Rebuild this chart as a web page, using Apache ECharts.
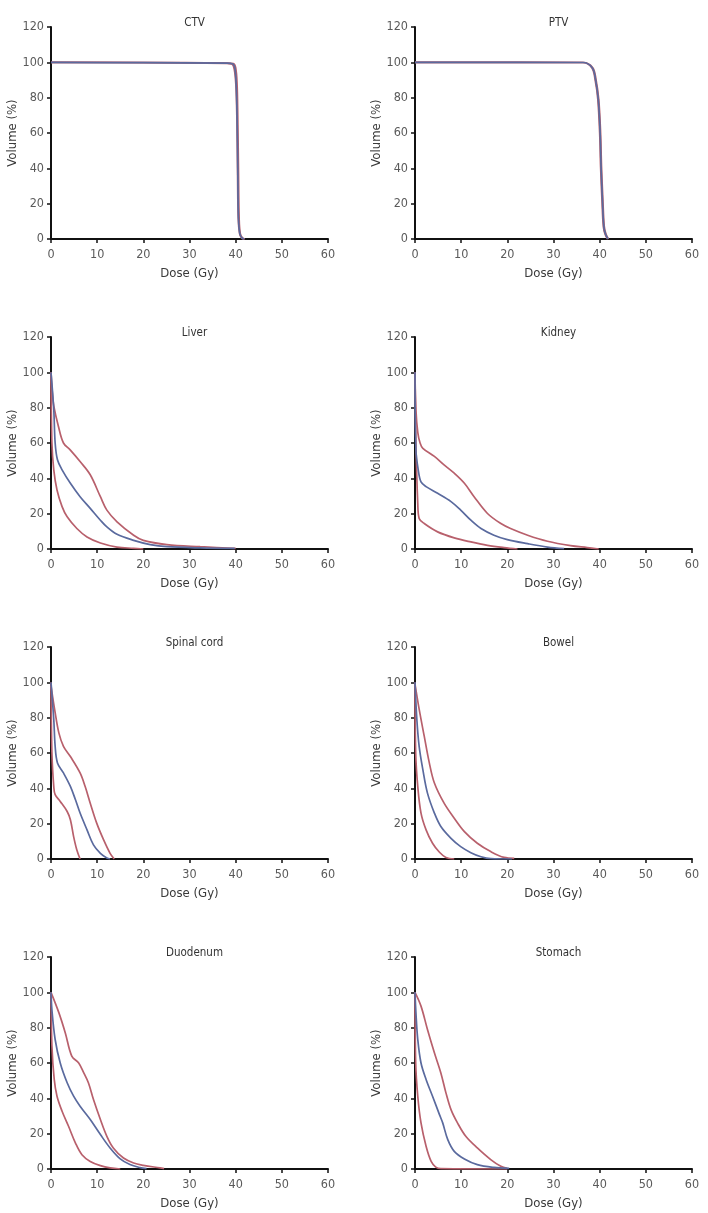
<!DOCTYPE html>
<html>
<head>
<meta charset="utf-8">
<script src="https://cdn.jsdelivr.net/npm/echarts@6/dist/echarts.min.js"></script>
<style>
html,body{margin:0;padding:0;background:#fff;}
#chart{width:708px;height:1213px;}
</style>
</head>
<body>
<div id="chart"></div>
<script>
// Panel titles
const panelTitles = ['CTV','PTV','Liver','Kidney','Spinal cord','Bowel','Duodenum','Stomach'];
const xTicks = [0,10,20,30,40,50,60];
const yTicks = [0,20,40,60,80,100,120];

// DVH curves: [dose (Gy), volume (%)]; upper/lower = red, mean = blue
const ctvUpper = [[0,100],[20,99.9],[38,99.6],[39.5,99.3],[40,97],[40.3,88],[40.45,70],[40.6,40],[40.75,12],[41,3],[41.5,0.5],[42,0]];
const ctvMean  = [[0,100],[20,99.8],[38,99.5],[39.3,99.2],[39.8,97],[40.1,88],[40.3,70],[40.45,40],[40.6,12],[40.9,3],[41.4,0.5],[41.9,0]];
const ctvLower = [[0,100],[20,99.8],[38,99.4],[39.2,99],[39.7,96],[40.05,87],[40.25,70],[40.4,40],[40.55,12],[40.85,3],[41.3,0.5],[41.8,0]];

const ptvUpper = [[0,100],[36.5,99.9],[38.5,97],[39.2,90.4],[39.8,79],[40.2,60],[40.4,41],[40.7,22],[41,7],[41.4,2.5],[41.9,0]];
const ptvMean  = [[0,100],[36.4,99.9],[38.4,97],[39.1,90.4],[39.7,79],[40.1,60],[40.3,41],[40.6,22],[40.9,7],[41.3,2.5],[41.8,0]];
const ptvLower = [[0,100],[36.3,99.9],[38.3,97],[39,90.4],[39.6,79],[40,60],[40.2,41],[40.5,22],[40.8,7],[41.2,2.5],[41.7,0]];

const liverUpper = [[0,100],[0.3,88],[0.6,81],[1.6,69.5],[2.7,60],[4.2,56],[6.3,49.5],[8.5,42],[10.7,29.6],[12.1,22],[14.3,15.4],[17.9,7.8],[20,4.9],[25.1,2.5],[32.3,1.3],[39.5,0.4],[40,0.3]];
const liverMean  = [[0,100],[0.6,79],[0.9,60],[1.4,50.5],[2.4,44.8],[4.2,37.2],[6.3,29.6],[8.5,23],[10.7,16.3],[12.1,12.5],[14.3,8.3],[17.9,4.9],[21.5,2.5],[25.1,1.3],[32.3,0.6],[39.8,0.3]];
const liverLower = [[0,100],[0.2,60],[0.6,44.8],[1.3,33.4],[2.4,24],[3.5,18.2],[5.6,11.6],[7.8,6.8],[10.7,3.4],[14.3,1.1],[17.9,0.4],[20,0]];

const kidneyUpper = [[0,100],[0.2,79],[0.6,66],[1.1,60],[1.7,57],[4.2,52.4],[6.3,47.6],[8.5,42.9],[10.7,37.2],[12.8,29.6],[15.7,20.1],[18.6,14.4],[20.7,11.6],[24.4,7.8],[28.7,4.4],[33.7,1.9],[37.3,0.8],[39.8,0]];
const kidneyMean  = [[0,100],[0.2,56],[0.7,44.8],[1.3,38],[2.4,35.3],[4.9,31.5],[7.8,26.8],[9.9,22],[12.1,16.3],[14.3,11.6],[17.1,7.8],[20,5.3],[24.4,3],[28.7,1.1],[32.3,0.2]];
const kidneyLower = [[0,100],[0.2,60],[0.6,25.8],[0.9,17.3],[2,14.4],[4.9,9.7],[8.5,6.3],[12.1,4],[15.7,2.1],[19.3,0.8],[22.2,0]];

const cordUpper = [[0,98],[0.9,82.8],[1.7,71.4],[2.7,63.8],[4.2,58],[6.3,48.7],[7.4,41],[8.5,31.6],[9.9,20.3],[11.4,10.8],[12.8,3.2],[13.7,0]];
const cordMean  = [[0,100],[0.6,79],[0.9,63.8],[1.4,54.4],[2.7,48.7],[4.2,41.1],[5.3,33.5],[6.3,26],[7.8,16.5],[9.2,8],[10.7,3.2],[12.1,0.6],[12.8,0]];
const cordLower = [[0,100],[0.2,60],[0.6,41],[0.9,36.4],[2,32.6],[3.5,26.9],[4.2,22.2],[4.9,12.7],[5.6,5.1],[6.3,0]];

const bowelUpper = [[0,99],[0.9,84.8],[2,69.5],[3.1,54.4],[4.2,43],[6.3,31.6],[8.5,23.1],[10.7,15.5],[13.5,8.9],[16.4,4.2],[19.3,0.9],[21.5,0.4]];
const bowelMean  = [[0,100],[0.4,79],[0.9,63.8],[1.7,50.6],[2.7,37.3],[4.2,26],[5.6,18.4],[7.8,11.7],[9.9,7],[12.1,3.6],[14.3,1.3],[16.4,0.2],[21,0]];
const bowelLower = [[0,100],[0.15,60],[0.6,41],[1.3,26],[2.4,16.5],[3.8,8.9],[5.3,3.8],[6.7,0.9],[8.5,0]];

const duoUpper = [[0,100],[1.7,88.5],[3.1,77],[4.5,63.9],[6,60],[7.1,54.4],[8.1,48.8],[9.2,39.3],[10.7,28],[12.1,18.5],[13.5,11.9],[15.7,6.2],[17.9,3.4],[20,2.1],[23.6,0.6],[24.5,0.2]];
const duoMean  = [[0,100],[0.2,90],[0.9,73.3],[2,60],[3.5,48.8],[4.9,41.2],[6.3,35.5],[8.5,28],[10.7,19.5],[12.8,11.9],[15,5.7],[17.1,2.5],[19.3,0.8],[20.7,0.2]];
const duoLower = [[0,100],[0.2,69.6],[0.7,50.7],[1.3,41.2],[2.4,32.7],[3.8,24.2],[5.3,14.7],[6.7,8.1],[8.5,4.3],[10.7,1.9],[12.8,0.6],[15,0]];

const stomUpper = [[0,100],[1.3,92.2],[2.7,79],[4.2,65.8],[5.6,54.4],[6.7,43.1],[7.8,33.6],[9.2,26.1],[11,18.5],[13.5,11.9],[16.4,5.3],[18.6,1.5],[20,0.4]];
const stomMean  = [[0,100],[0.2,88.5],[0.6,73.3],[1.3,60],[2.4,50.7],[3.8,41.2],[5.3,30.8],[6,26.1],[7.1,16.6],[8.5,10],[10.7,5.7],[13.5,2.5],[17.1,0.9],[20.4,0.4]];
const stomLower = [[0,100],[0.15,60],[0.6,41.2],[1.3,26.1],[2.4,12.9],[3.5,4.3],[4.5,1.1],[5.6,0.2],[20,0]];

const panels = [
  [ctvUpper, ctvMean, ctvLower],
  [ptvUpper, ptvMean, ptvLower],
  [liverUpper, liverMean, liverLower],
  [kidneyUpper, kidneyMean, kidneyLower],
  [cordUpper, cordMean, cordLower],
  [bowelUpper, bowelMean, bowelLower],
  [duoUpper, duoMean, duoLower],
  [stomUpper, stomMean, stomLower]
];

const RED = '#b8606c';
const BLUE = '#5a6a9e';
const FONT = '"Liberation Sans Narrow", "DejaVu Sans Condensed", sans-serif';
const lefts = [51, 415];
const tops = [27, 337, 647, 957];
const W = 277, H = 212;

const grids = [], xAxes = [], yAxes = [], titles = [], series = [];
panels.forEach((p, i) => {
  const col = i % 2, row = Math.floor(i / 2);
  grids.push({left: lefts[col], top: tops[row], width: W, height: H});
  titles.push({
    text: panelTitles[i], left: lefts[col] + W / 2, top: tops[row] - 15, textAlign: 'center',
    textStyle: {fontFamily: FONT, fontSize: 11.5, fontWeight: 'normal', color: '#333'}
  });
  xAxes.push({
    type: 'value', gridIndex: i, min: 0, max: 60, interval: 10,
    name: 'Dose (Gy)', nameLocation: 'middle', nameGap: 28,
    nameTextStyle: {fontFamily: FONT, fontSize: 13, color: '#3a3a3a'},
    axisLine: {show: true, lineStyle: {color: '#111', width: 2}},
    axisTick: {show: true, length: 4, lineStyle: {color: '#111', width: 1.5}},
    axisLabel: {fontFamily: FONT, fontSize: 12.5, color: '#5a5a5a', margin: 9},
    splitLine: {show: false}
  });
  yAxes.push({
    type: 'value', gridIndex: i, min: 0, max: 120, interval: 20,
    name: 'Volume (%)', nameLocation: 'middle', nameGap: 32,
    nameTextStyle: {fontFamily: FONT, fontSize: 13, color: '#3a3a3a'},
    axisLine: {show: true, lineStyle: {color: '#111', width: 2}},
    axisTick: {show: true, length: 4, lineStyle: {color: '#111', width: 1.5}},
    axisLabel: {fontFamily: FONT, fontSize: 12.5, color: '#5a5a5a', margin: 7},
    splitLine: {show: false}
  });
  const cols = [RED, BLUE, RED];
  const order = [0, 2, 1];
  order.forEach(k => {
    series.push({
      type: 'line', xAxisIndex: i, yAxisIndex: i, data: p[k],
      showSymbol: false, smooth: 0.35,
      lineStyle: {color: cols[k], width: 1.7}, itemStyle: {color: cols[k]},
      z: k === 1 ? 3 : 2, silent: true, animation: false
    });
  });
});

const chart = echarts.init(document.getElementById('chart'), null, {renderer: 'canvas'});
chart.setOption({
  backgroundColor: '#fff',
  animation: false,
  title: titles,
  grid: grids,
  xAxis: xAxes,
  yAxis: yAxes,
  series: series
});
</script>
</body>
</html>
